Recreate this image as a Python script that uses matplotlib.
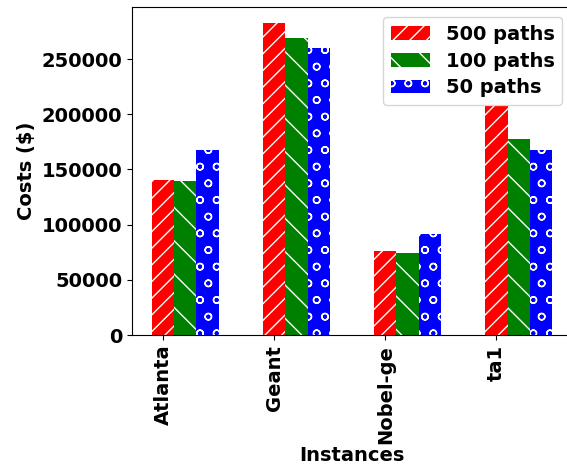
import matplotlib
matplotlib.use("Agg")
import matplotlib.pyplot as plt
import numpy as np

instances = ["Atlanta", "Geant", "Nobel-ge", "ta1"]
paths_500 = [140000, 282700, 76400, 207500]
paths_100 = [139700, 269400, 74200, 177900]
paths_50 = [167500, 259700, 91800, 167500]

plt.rcParams['font.weight'] = 'bold'
plt.rcParams['font.size'] = 14
plt.rcParams['hatch.color'] = 'white'

fig = plt.figure(figsize=(5.67, 4.66), dpi=100)
ax = fig.add_axes([0.2328, 0.2811, 0.776, 0.7032])

x = np.arange(len(instances))
w = 0.2
ax.bar(x, paths_500, w, color='red', hatch='//', edgecolor='white', lw=0, label='500 paths')
ax.bar(x + w, paths_100, w, color='green', hatch='\\', edgecolor='white', lw=0, label='100 paths')
ax.bar(x + 2 * w, paths_50, w, color='blue', hatch='o', edgecolor='white', lw=0, label='50 paths')

ax.set_xticks(x)
ax.set_xticklabels(instances, rotation=90, fontweight='bold')
for t in ax.get_yticklabels():
    t.set_fontweight('bold')
ax.set_xlabel('Instances', fontweight='bold', labelpad=2)
ax.set_ylabel('Costs ($)', fontweight='bold')
ax.legend(loc='upper right', prop={'weight': 'bold', 'size': 14}, labelspacing=0.4)

fig.savefig('out.png', dpi=100)
